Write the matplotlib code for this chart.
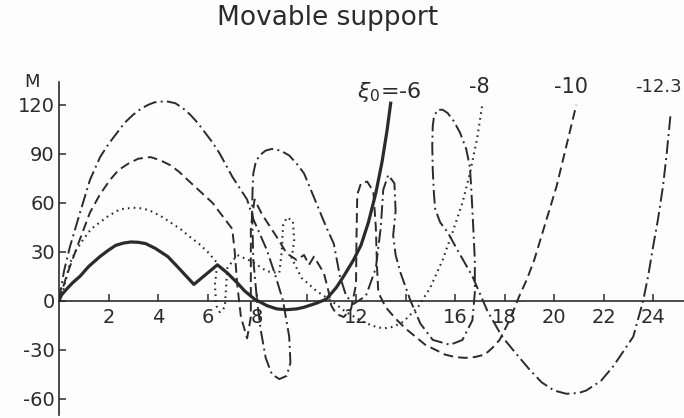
import matplotlib
matplotlib.use("Agg")
import matplotlib.pyplot as plt

# moment curves M(x) for each starting point xi_0
x_m6 = [0, 0.1, 0.3, 0.55, 0.85, 1.2, 1.65, 2.0, 2.3, 2.6, 2.9, 3.2, 3.5, 3.9,
        4.4, 4.9, 5.45, 6.4, 6.8, 7.2, 7.5, 7.9, 8.4, 8.8, 9.2, 9.6, 9.9, 10.4,
        10.8, 11.2, 11.5, 11.9, 12.2, 12.5, 12.8, 13.05, 13.25, 13.4]
m_m6 = [0, 3.5, 7, 11, 15, 21, 27, 31, 34, 35.3, 36, 35.8, 35, 32,
        27, 19, 10, 22, 17, 11, 6, 1, -3, -5, -5.5, -5, -4, -1.5,
        1, 8, 15, 25, 34, 48, 66, 85, 104, 121]

x_m8 = [0, 0.2, 0.44, 0.7, 1.0, 1.3, 1.65, 2.0, 2.46, 3.0, 3.4, 3.7, 4.1, 4.5,
        4.9, 5.3, 5.65, 6.0, 6.4, 6.3, 6.35, 6.5, 6.7, 6.75, 6.8, 7.2, 7.8,
        8.4, 8.9, 9.0, 9.05, 9.2, 9.45, 9.5, 9.4, 9.8, 10.4, 11.0, 11.6, 12.3,
        12.7, 13.1, 13.5, 13.9, 14.5, 15.0, 15.5, 15.9, 16.3, 16.6, 16.9, 17.1]
m_m8 = [0, 8, 23, 31, 38, 44, 48, 52, 56, 57, 56.5, 55, 52, 48,
        44, 39, 35, 30, 23, 10, -3, -7, -4, 8, 20, 28, 24,
        18, 17, 30, 46, 51, 49, 37, 26, 14, 6, 0, -7, -13,
        -15.5, -17, -16, -13, -4, 8, 25, 42, 60, 78, 100, 120]

x_m10 = [0, 0.3, 0.73, 1.25, 1.65, 2.06, 2.4, 2.8, 3.2, 3.7, 4.1, 4.5, 4.85,
         5.2, 5.7, 6.2, 6.6, 7.0, 7.1, 7.2, 7.35, 7.6, 7.75, 7.75, 7.75, 7.9,
         8.2, 8.8, 9.2, 9.6, 9.9, 10.1, 10.3, 10.7, 10.9, 11.0, 11.2, 11.5,
         11.8, 12.0, 12.02, 12.05, 12.2, 12.45, 12.7, 12.8, 12.85, 12.9, 13.2,
         13.6, 14.0, 14.4, 14.8, 15.2, 15.6, 16.0, 16.4, 16.8, 17.2, 17.5,
         17.8, 18.2, 18.6, 18.9, 19.2, 19.6, 20.1, 20.5, 20.9]
m_m10 = [0, 15, 33, 54, 65, 74, 80, 84, 87, 88, 86, 83, 79,
         74, 67, 60, 52, 44, 30, 10, -10, -23, -10, 20, 45, 62,
         53, 39, 29, 25, 28, 22, 27, 17, 5, -3, -8, -10,
         -5, 10, 40, 65, 72, 73, 67, 45, 20, 5, -4,
         -11, -17, -22, -27, -30, -33, -34.5, -35, -34.5, -33, -29,
         -24, -12, 3, 13, 25, 45, 70, 95, 120]

x_m12 = [0, 0.1, 0.2, 0.44, 0.85, 1.25, 1.66, 2.0, 2.3, 2.65, 3.0, 3.3, 3.6,
         3.85, 4.1, 4.4, 4.7, 5.0, 5.3, 5.6, 5.9, 6.2, 6.5, 7.0, 7.6, 7.85,
         8.4, 8.75, 9.05, 9.3, 9.35, 9.2, 8.9, 8.6, 8.35, 8.15, 8.0, 7.85, 7.8,
         7.82, 7.85, 7.95, 8.1, 8.35, 8.6, 8.95, 9.3, 9.6, 9.9, 10.2, 10.5,
         10.8, 11.1, 11.35, 11.6, 11.9, 12.4, 12.8, 13.0, 13.1, 13.3, 13.55,
         13.6, 13.5, 13.6, 13.8, 14.2, 14.6, 15.1, 15.8, 16.3, 16.7, 16.8,
         16.8, 16.7, 16.65, 16.6, 16.45, 16.2, 15.95, 15.7, 15.5, 15.3, 15.15,
         15.1, 15.08, 15.1, 15.15, 15.2, 15.4, 15.7, 16.1, 16.4, 16.7, 17.3,
         17.9, 18.5, 19.0, 19.5, 20.0, 20.5, 21.0, 21.3, 21.9, 22.4, 22.8,
         23.2, 23.4, 23.6, 23.8, 24.0, 24.2, 24.4, 24.55, 24.7]
m_m12 = [0, 9, 18, 33, 54, 74, 88, 96, 102, 109, 114, 117.5, 120,
         121.5, 122, 122, 121, 118, 114, 109, 103, 97, 90, 76, 62, 50,
         31, 15, 0, -22, -38, -46, -48, -45, -35, -18, 0, 25, 55,
         68, 78, 85, 89, 92, 93, 92, 89, 84, 78, 67, 56,
         45, 35, 15, 3, -2, 3, 20, 45, 68, 77, 72,
         55, 40, 28, 17, 0, -14, -24, -27, -24, -12, 5,
         25, 56, 70, 82, 93, 103, 110, 115, 117, 117, 113,
         107, 95, 80, 65, 56, 48, 42, 31, 23, 15, -6,
         -22, -33, -42, -50, -55, -57, -56.5, -55, -49, -40, -31,
         -22, -11, 0, 15, 33, 50, 70, 90, 113]

y_ticks = [-60, -30, 0, 30, 60, 90, 120]
x_ticks = [2, 4, 6, 8, 10, 12, 14, 16, 18, 20, 22, 24]
x_labels = ["2", "4", "6", "8", "", "12", "", "16", "18", "20", "22", "24"]

ink = "#2b2b2b"

fig = plt.figure(figsize=(6.84, 4.18), dpi=100, facecolor="#fdfdfd")
ax = fig.add_axes([59 / 684, 3 / 418, 1 - 59 / 684, 333 / 418])
ax.set_facecolor("none")

ax.plot(x_m6, m_m6, color=ink, lw=2.3, solid_joinstyle="round")
ax.plot(x_m8, m_m8, color=ink, lw=1.5, dashes=(0.8, 2.0))
ax.plot(x_m10, m_m10, color=ink, lw=1.4, dashes=(5, 2.6))
ax.plot(x_m12, m_m12, color=ink, lw=1.4, dashes=(7, 2.2, 1, 2.2))

ax.set_xlim(0, 25.25)
ax.set_ylim(-70, 134)

for s in ["top", "right"]:
    ax.spines[s].set_visible(False)
ax.spines["bottom"].set_position(("data", 0))
ax.spines["bottom"].set_color(ink)
ax.spines["left"].set_color(ink)
ax.spines["bottom"].set_linewidth(1.2)
ax.spines["left"].set_linewidth(1.2)

ax.set_yticks(y_ticks)
ax.set_yticklabels([str(v) for v in y_ticks])
ax.set_xticks(x_ticks)
ax.set_xticklabels(x_labels)
ax.tick_params(axis="both", direction="in", length=5, width=1.1, color=ink,
               labelcolor=ink, labelsize=14)
ax.tick_params(axis="x", pad=5)
ax.tick_params(axis="y", pad=3)

ax.text(-1.1, 134, "M", fontsize=13, color=ink, ha="center", va="center",
        clip_on=False)

# curve labels
ax.text(12.05, 128, r"$\xi_0$=-6", fontsize=16, color=ink, ha="left", va="center",
        clip_on=False)
ax.text(17.0, 131, "-8", fontsize=15, color=ink, ha="center", va="center", clip_on=False)
ax.text(20.7, 131, "-10", fontsize=15, color=ink, ha="center", va="center", clip_on=False)
ax.text(24.2, 131, "-12.3", fontsize=13, color=ink, ha="center", va="center", clip_on=False)

fig.text(328 / 684, 1 - 18 / 418, "Movable support", fontsize=19, color=ink,
         ha="center", va="center")

plt.savefig("out.png", dpi=100, facecolor=fig.get_facecolor())
